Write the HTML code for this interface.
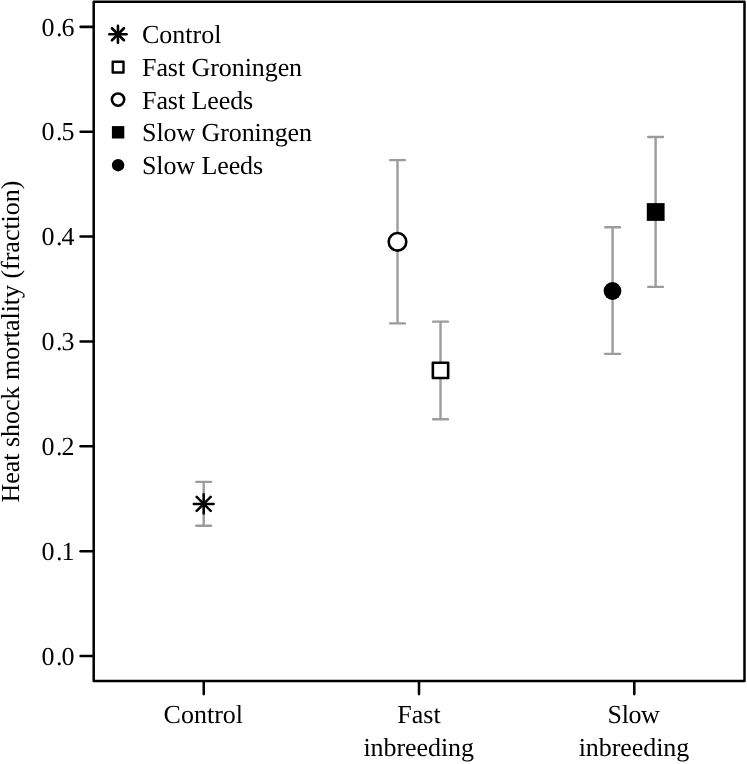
<!DOCTYPE html>
<html><head><meta charset="utf-8">
<style>
html,body{margin:0;padding:0;background:#fff;}
body{width:747px;height:764px;overflow:hidden;}
svg{display:block;will-change:transform;transform:translateZ(0);}
text{font-family:"Liberation Serif",serif;font-size:26px;fill:#000;text-rendering:geometricPrecision;}
</style></head><body>
<svg width="747" height="764" viewBox="0 0 747 764">
<rect width="747" height="764" fill="#fff"/>
<!-- plot frame -->
<rect x="93.7" y="1.75" width="650.8" height="679.2" fill="none" stroke="#000" stroke-width="2.5" stroke-linejoin="round"/>
<!-- y ticks -->
<g stroke="#000" stroke-width="2.55" stroke-linecap="round">
<line x1="80.6" y1="26.85" x2="93.5" y2="26.85"/>
<line x1="80.6" y1="131.7" x2="93.5" y2="131.7"/>
<line x1="80.6" y1="236.55" x2="93.5" y2="236.55"/>
<line x1="80.6" y1="341.4" x2="93.5" y2="341.4"/>
<line x1="80.6" y1="446.3" x2="93.5" y2="446.3"/>
<line x1="80.6" y1="551.15" x2="93.5" y2="551.15"/>
<line x1="80.6" y1="656.0" x2="93.5" y2="656.0"/>
<line x1="203.75" y1="681.4" x2="203.75" y2="694.1"/>
<line x1="419" y1="681.4" x2="419" y2="694.1"/>
<line x1="634.3" y1="681.4" x2="634.3" y2="694.1"/>
</g>
<!-- y tick labels -->
<g text-anchor="end">
<text x="74.9" y="35.6"><tspan dx="-0.5">0</tspan><tspan dx="1.7">.</tspan><tspan dx="-1.2">6</tspan></text>
<text x="74.9" y="140.45"><tspan dx="-0.5">0</tspan><tspan dx="1.7">.</tspan><tspan dx="-1.2">5</tspan></text>
<text x="74.9" y="245.3"><tspan dx="-0.5">0</tspan><tspan dx="1.7">.</tspan><tspan dx="-1.2">4</tspan></text>
<text x="74.9" y="350.15"><tspan dx="-0.5">0</tspan><tspan dx="1.7">.</tspan><tspan dx="-1.2">3</tspan></text>
<text x="74.9" y="455"><tspan dx="-0.5">0</tspan><tspan dx="1.7">.</tspan><tspan dx="-1.2">2</tspan></text>
<text x="74.9" y="559.85"><tspan dx="-0.5">0</tspan><tspan dx="1.7">.</tspan><tspan dx="-1.2">1</tspan></text>
<text x="74.9" y="664.7"><tspan dx="-0.5">0</tspan><tspan dx="1.7">.</tspan><tspan dx="-1.2">0</tspan></text>
</g>
<!-- x labels -->
<g text-anchor="middle">
<text x="203.35" y="723.2">Control</text>
<text x="419" y="723.2">Fast</text>
<text x="418.75" y="755.9" textLength="110.6">inbreeding</text>
<text x="633.7" y="723.2" textLength="52.2">Slow</text>
<text x="633.95" y="755.9" textLength="110.5">inbreeding</text>
</g>
<!-- y label -->
<text transform="translate(19.1,341.5) rotate(-90)" text-anchor="middle" textLength="321.8">Heat shock mortality (fraction)</text>
<!-- legend -->
<g>
<g stroke="#000" stroke-width="2.6" stroke-linecap="round" transform="translate(117.95,34.25)">
<line x1="-8.6" y1="0" x2="8.6" y2="0"/><line x1="0" y1="-8.5" x2="0" y2="8.5"/>
<line x1="-6" y1="-6" x2="6" y2="6"/><line x1="-6" y1="6" x2="6" y2="-6"/>
</g>
<rect x="112.7" y="61.7" width="10.8" height="10.8" fill="#fff" stroke="#000" stroke-width="2.4" stroke-linejoin="round"/>
<circle cx="118.05" cy="99.6" r="6.15" fill="#fff" stroke="#000" stroke-width="2.55"/>
<rect x="111.9" y="126.1" width="12.4" height="12.4" fill="#000"/>
<circle cx="118.1" cy="165.2" r="6.2" fill="#000"/>
<text x="142" y="43.2">Control</text>
<text x="142" y="75.9" textLength="160.1">Fast Groningen</text>
<text x="142" y="108.55" textLength="111.2">Fast Leeds</text>
<text x="142" y="141.25" textLength="170.0">Slow Groningen</text>
<text x="142" y="173.95" textLength="121.1">Slow Leeds</text>
</g>
<!-- error bars -->
<g stroke="#9c9c9c" stroke-width="2.4" stroke-linecap="round" fill="none">
<path d="M203.7 481.9V525.8M196.3 481.9H211.1M196.3 525.8H211.1"/>
<path d="M397.5 160.1V323.4M390.1 160.1H404.9M390.1 323.4H404.9"/>
<path d="M440.5 321.65V419.2M433.1 321.65H447.9M433.1 419.2H447.9"/>
<path d="M612.6 227.3V353.9M605.2 227.3H620M605.2 353.9H620"/>
<path d="M655.6 137V286.85M648.2 137H663M648.2 286.85H663"/>
</g>
<!-- points -->
<g stroke="#000" stroke-width="2.5" stroke-linecap="round" transform="translate(203.7,503.9)">
<line x1="-9.9" y1="0" x2="9.9" y2="0"/><line x1="0" y1="-9.6" x2="0" y2="9.6"/>
<line x1="-7" y1="-7" x2="7" y2="7"/><line x1="-7" y1="7" x2="7" y2="-7"/>
</g>
<circle cx="397.5" cy="241.8" r="8.8" fill="#fff" stroke="#000" stroke-width="2.6"/>
<rect x="432.85" y="362.7" width="15.3" height="15.3" fill="#fff" stroke="#000" stroke-width="2.6" stroke-linejoin="round"/>
<circle cx="612.5" cy="291" r="8.9" fill="#000"/>
<rect x="646.8" y="203.1" width="17.8" height="17.8" fill="#000"/>
</svg>
</body></html>
